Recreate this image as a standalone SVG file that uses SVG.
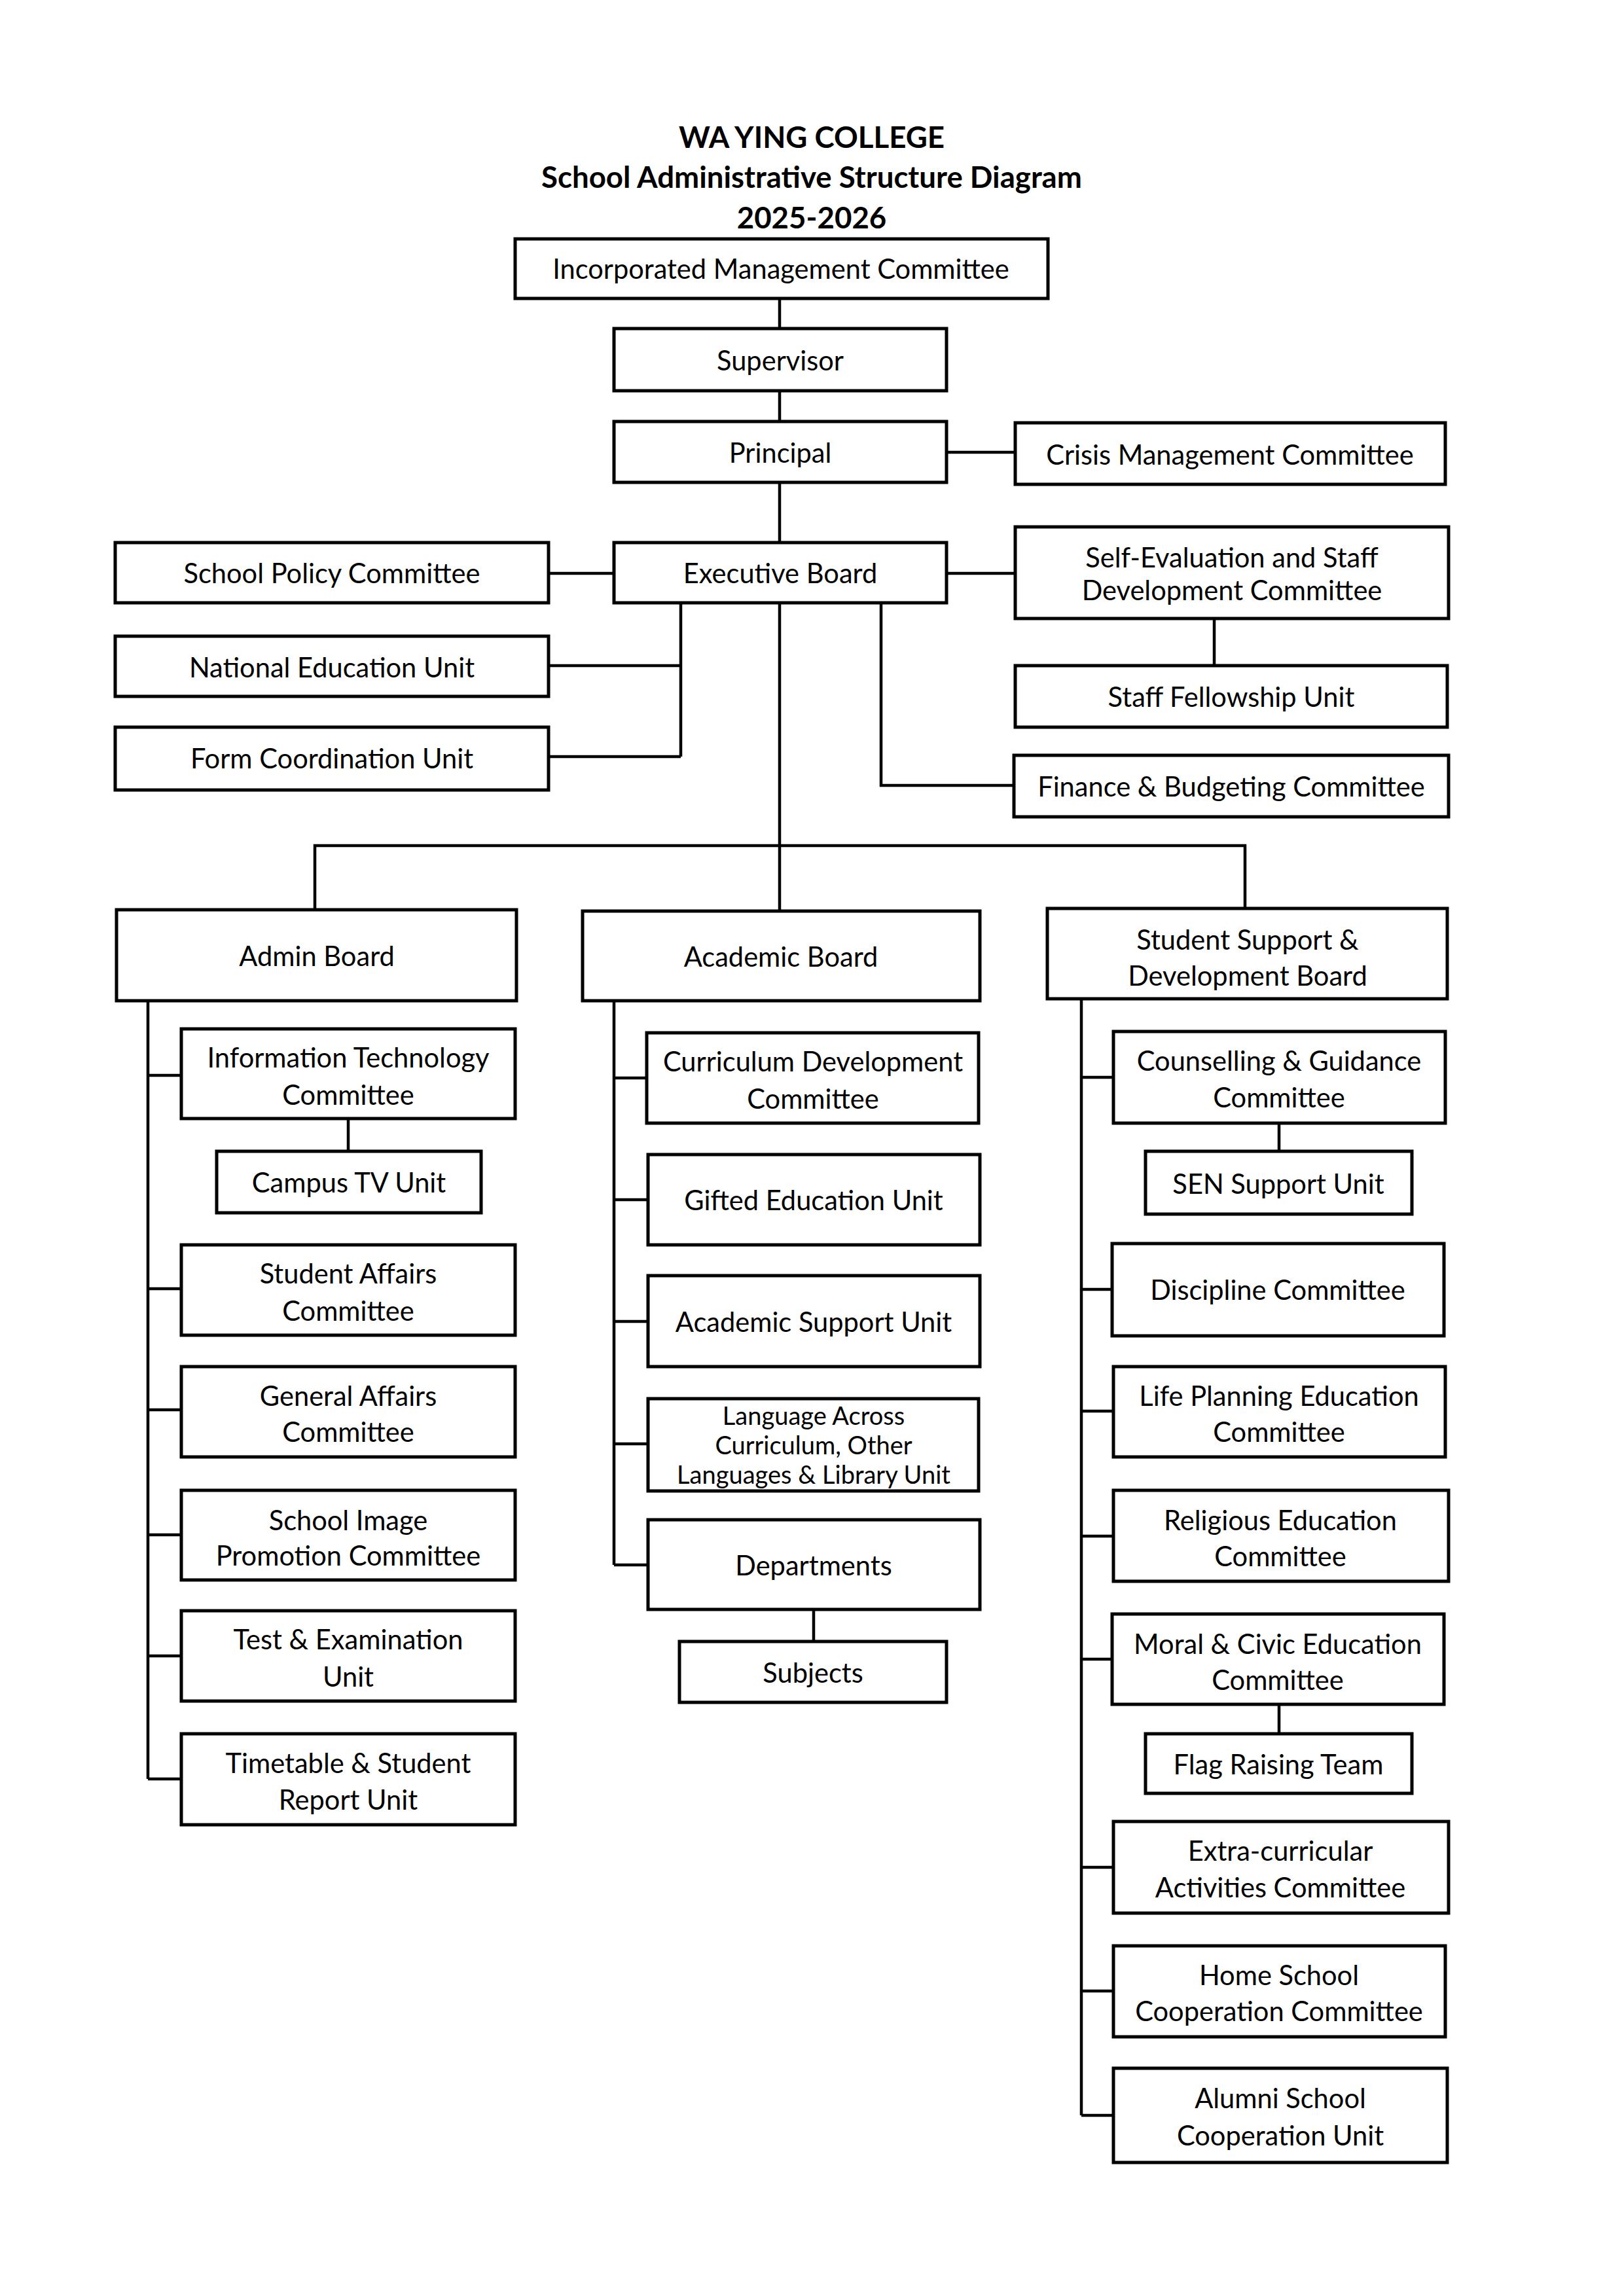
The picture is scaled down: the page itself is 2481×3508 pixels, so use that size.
<svg xmlns="http://www.w3.org/2000/svg" width="2481" height="3508" viewBox="0 0 2481 3508">
<style>
.box{fill:#fff;stroke:#000;stroke-width:5}
.c{stroke:#000;stroke-width:4.5;fill:none}
text{font-family:Lato,"Open Sans","Liberation Sans",sans-serif;font-size:41.6px;text-anchor:middle;dominant-baseline:central;fill:#000}
.t{font-weight:bold;font-size:45.6px}
.s{font-size:38px}
</style>
<rect width="2481" height="3508" fill="#fff"/>
<g id="title">
<text class="t" x="1240" y="208">WA YING COLLEGE</text>
<text class="t" x="1240" y="269">School Administrative Structure Diagram</text>
<text class="t" x="1240" y="331">2025-2026</text>
</g>
<g id="connectors">
<path class="c" d="M1191 456V502M1191 597V644M1191 737V829M1446 691H1551M838 876H938M1446 876H1551"/>
<path class="c" d="M1040 921V1156M838 1017H1040M838 1156H1040"/>
<path class="c" d="M1346 921V1200H1549M1855 945V1017"/>
<path class="c" d="M1191 921V1392M481 1390V1292H1902V1388"/>
<path class="c" d="M226 1529V2718M226 1643H277M226 1969H277M226 2154H277M226 2345H277M226 2530H277M226 2718H277M532 1709V1759"/>
<path class="c" d="M938 1529V2391M938 1647H988M938 1833H990M938 2019H990M938 2206H990M938 2391H990M1243 2459V2508"/>
<path class="c" d="M1652 1526V3232M1652 1646H1701M1652 1970H1699M1652 2156H1701M1652 2347H1701M1652 2535H1699M1652 2853H1701M1652 3042H1701M1652 3232H1701M1954 1716V1759M1954 2604V2649"/>
</g>
<g id="imc"><rect class="box" x="787" y="365" width="814" height="91"/><text x="1193" y="410">Incorporated Management Committee</text></g>
<g id="supervisor"><rect class="box" x="938" y="502" width="508" height="95"/><text x="1192" y="550">Supervisor</text></g>
<g id="principal"><rect class="box" x="938" y="644" width="508" height="93"/><text x="1192" y="691">Principal</text></g>
<g id="crisis"><rect class="box" x="1551" y="646" width="657" height="94"/><text x="1879" y="694">Crisis Management Committee</text></g>
<g id="schoolpolicy"><rect class="box" x="176" y="829" width="662" height="92"/><text x="507" y="875">School Policy Committee</text></g>
<g id="exec"><rect class="box" x="938" y="829" width="508" height="92"/><text x="1192" y="875">Executive Board</text></g>
<g id="selfeval"><rect class="box" x="1551" y="805" width="662" height="140"/><text x="1882" y="851">Self-Evaluation and Staff</text><text x="1882" y="901">Development Committee</text></g>
<g id="nationaled"><rect class="box" x="176" y="972" width="662" height="92"/><text x="507" y="1019">National Education Unit</text></g>
<g id="fellowship"><rect class="box" x="1551" y="1017" width="660" height="94"/><text x="1881" y="1064">Staff Fellowship Unit</text></g>
<g id="formcoord"><rect class="box" x="176" y="1111" width="662" height="96"/><text x="507" y="1158">Form Coordination Unit</text></g>
<g id="finance"><rect class="box" x="1549" y="1154" width="664" height="94"/><text x="1881" y="1201">Finance &amp; Budgeting Committee</text></g>
<g id="admin"><rect class="box" x="178" y="1390" width="611" height="139"/><text x="484" y="1460">Admin Board</text></g>
<g id="academic"><rect class="box" x="890" y="1392" width="607" height="137"/><text x="1193" y="1461">Academic Board</text></g>
<g id="ssdb"><rect class="box" x="1600" y="1388" width="611" height="138"/><text x="1906" y="1435">Student Support &amp;</text><text x="1906" y="1490">Development Board</text></g>
<g id="it"><rect class="box" x="277" y="1572" width="510" height="137"/><text x="532" y="1615">Information Technology</text><text x="532" y="1672">Committee</text></g>
<g id="campustv"><rect class="box" x="331" y="1759" width="404" height="94"/><text x="533" y="1806">Campus TV Unit</text></g>
<g id="studentaffairs"><rect class="box" x="277" y="1902" width="510" height="138"/><text x="532" y="1945">Student Affairs</text><text x="532" y="2002">Committee</text></g>
<g id="generalaffairs"><rect class="box" x="277" y="2088" width="510" height="138"/><text x="532" y="2132">General Affairs</text><text x="532" y="2187">Committee</text></g>
<g id="schoolimage"><rect class="box" x="277" y="2277" width="510" height="137"/><text x="532" y="2322">School Image</text><text x="532" y="2376">Promotion Committee</text></g>
<g id="testexam"><rect class="box" x="277" y="2461" width="510" height="138"/><text x="532" y="2504">Test &amp; Examination</text><text x="532" y="2561">Unit</text></g>
<g id="timetable"><rect class="box" x="277" y="2649" width="510" height="139"/><text x="532" y="2693">Timetable &amp; Student</text><text x="532" y="2749">Report Unit</text></g>
<g id="curriculum"><rect class="box" x="988" y="1578" width="507" height="138"/><text x="1242" y="1621">Curriculum Development</text><text x="1242" y="1678">Committee</text></g>
<g id="gifted"><rect class="box" x="990" y="1764" width="507" height="138"/><text x="1243" y="1833">Gifted Education Unit</text></g>
<g id="acadsupport"><rect class="box" x="990" y="1949" width="507" height="139"/><text x="1243" y="2019">Academic Support Unit</text></g>
<g id="language"><rect class="box" x="990" y="2137" width="505" height="141"/><text class="s" x="1243" y="2162">Language Across</text><text class="s" x="1243" y="2207">Curriculum, Other</text><text class="s" x="1243" y="2252">Languages &amp; Library Unit</text></g>
<g id="departments"><rect class="box" x="990" y="2322" width="507" height="137"/><text x="1243" y="2391">Departments</text></g>
<g id="subjects"><rect class="box" x="1038" y="2508" width="408" height="93"/><text x="1242" y="2555">Subjects</text></g>
<g id="counselling"><rect class="box" x="1701" y="1576" width="507" height="140"/><text x="1954" y="1620">Counselling &amp; Guidance</text><text x="1954" y="1676">Committee</text></g>
<g id="sen"><rect class="box" x="1750" y="1759" width="407" height="96"/><text x="1953" y="1808">SEN Support Unit</text></g>
<g id="discipline"><rect class="box" x="1699" y="1900" width="507" height="141"/><text x="1952" y="1970">Discipline Committee</text></g>
<g id="lifeplanning"><rect class="box" x="1701" y="2088" width="507" height="138"/><text x="1954" y="2132">Life Planning Education</text><text x="1954" y="2187">Committee</text></g>
<g id="religious"><rect class="box" x="1701" y="2277" width="512" height="139"/><text x="1956" y="2322">Religious Education</text><text x="1956" y="2377">Committee</text></g>
<g id="moral"><rect class="box" x="1699" y="2466" width="507" height="138"/><text x="1952" y="2511">Moral &amp; Civic Education</text><text x="1952" y="2566">Committee</text></g>
<g id="flag"><rect class="box" x="1750" y="2649" width="407" height="91"/><text x="1953" y="2695">Flag Raising Team</text></g>
<g id="extra"><rect class="box" x="1701" y="2783" width="512" height="140"/><text x="1956" y="2827">Extra-curricular</text><text x="1956" y="2883">Activities Committee</text></g>
<g id="homeschool"><rect class="box" x="1701" y="2973" width="507" height="139"/><text x="1954" y="3017">Home School</text><text x="1954" y="3072">Cooperation Committee</text></g>
<g id="alumni"><rect class="box" x="1701" y="3160" width="510" height="144"/><text x="1956" y="3205">Alumni School</text><text x="1956" y="3262">Cooperation Unit</text></g>
</svg>
